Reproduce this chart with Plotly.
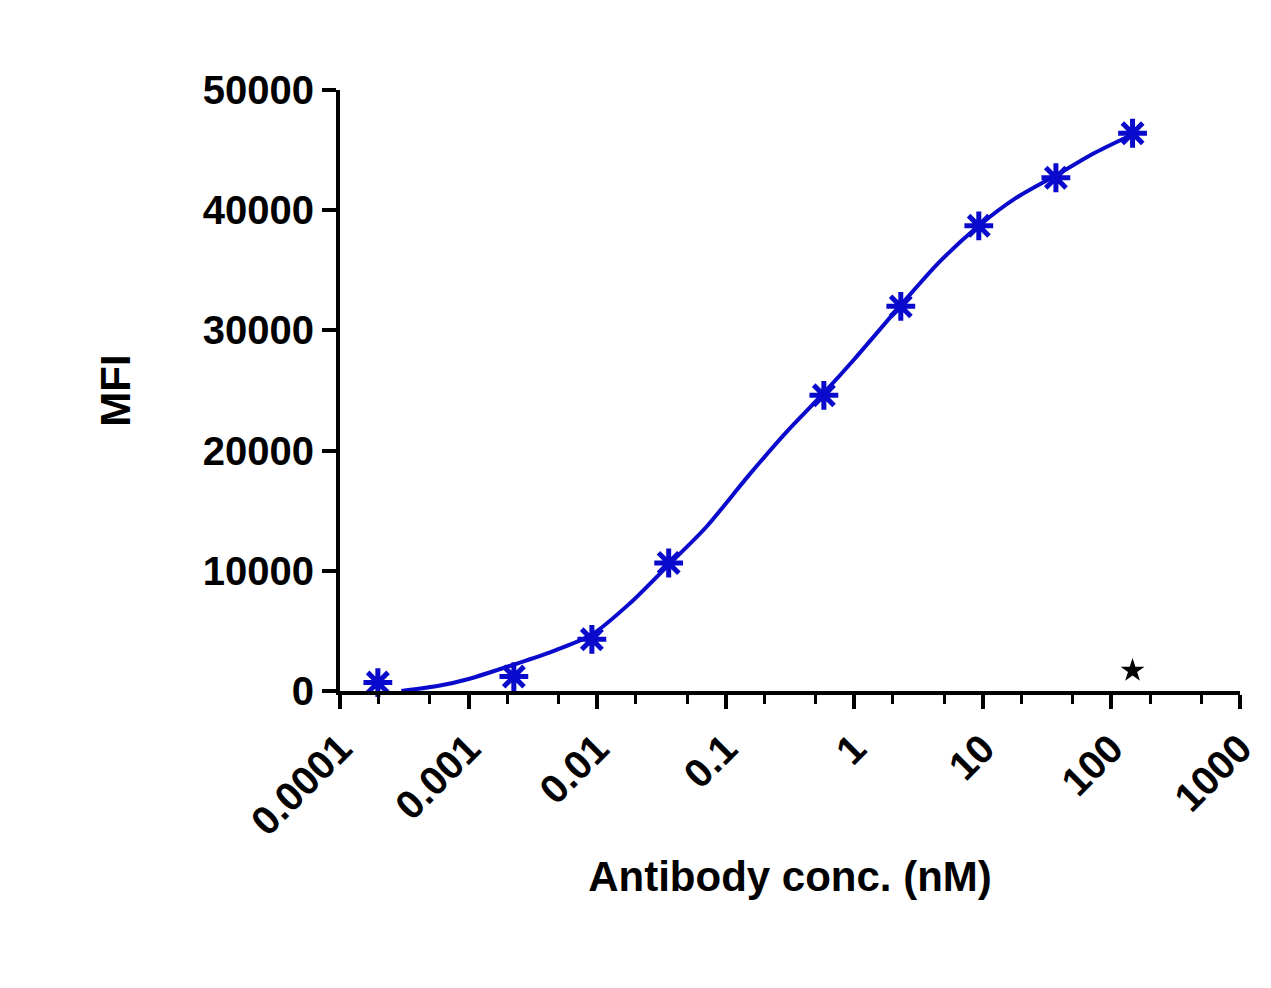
import plotly.graph_objects as go

conc = [0.000197, 0.00225, 0.0091, 0.036, 0.58, 2.3, 9.3, 37, 146]
mfi = [700, 1200, 4300, 10650, 24600, 32000, 38700, 42700, 46400]

fit_x = [0.0003, 0.0006, 0.001, 0.00225, 0.0045, 0.0091, 0.018, 0.036, 0.07, 0.15, 0.3, 0.58, 1.0, 2.3, 4.6, 9.3, 18, 37, 75, 146]
fit_y = [0, 450, 1000, 2200, 3300, 4700, 7300, 10500, 13600, 17900, 21600, 24800, 27600, 32100, 35700, 38700, 41000, 42900, 44800, 46300]

star_x = [146]
star_y = [1700]

blue = "#0A0ACC"
font = dict(family="Liberation Sans, Arial", size=40, color="black")

fig = go.Figure()
fig.add_trace(go.Scatter(x=fit_x, y=fit_y, mode="lines", line=dict(color=blue, width=4, shape="spline", smoothing=0.8), cliponaxis=False))
fig.add_trace(go.Scatter(x=conc, y=mfi, mode="markers", cliponaxis=False,
                         marker=dict(symbol="asterisk-open", size=24, color=blue, line=dict(color=blue, width=5))))
fig.add_trace(go.Scatter(x=star_x, y=star_y, mode="markers", cliponaxis=False,
                         marker=dict(symbol="star", size=18, color="black")))

fig.update_layout(
    width=1271, height=988, showlegend=False,
    paper_bgcolor="white", plot_bgcolor="white",
    margin=dict(l=332, r=39, t=82, b=305),
    font=font,
)
fig.update_xaxes(type="log", range=[-4, 3], showgrid=False, zeroline=False,
                 showline=True, linecolor="black", linewidth=4,
                 ticks="outside", ticklen=14, tickwidth=4, tickcolor="black",
                 tickvals=[0.0001, 0.001, 0.01, 0.1, 1, 10, 100, 1000],
                 ticktext=["<b>0.0001</b>", "<b>0.001</b>", "<b>0.01</b>", "<b>0.1</b>", "<b>1</b>", "<b>10</b>", "<b>100</b>", "<b>1000</b>"],
                 tickangle=-45, tickfont=dict(size=40),
                 minor=dict(ticks="outside", ticklen=9, tickwidth=3, tickcolor="black", showgrid=False),
                 title=dict(text="<b>Antibody conc. (nM)</b>", font=dict(size=42), standoff=20))
fig.update_yaxes(range=[0, 50000], showgrid=False, zeroline=False,
                 showline=True, linecolor="black", linewidth=4,
                 ticks="outside", ticklen=14, tickwidth=4, tickcolor="black",
                 tickvals=[0, 10000, 20000, 30000, 40000, 50000],
                 ticktext=["<b>0</b>", "<b>10000</b>", "<b>20000</b>", "<b>30000</b>", "<b>40000</b>", "<b>50000</b>"],
                 tickfont=dict(size=40),
                 title=dict(text="<b>MFI</b>", font=dict(size=42), standoff=60))
fig.write_html("out.html")
